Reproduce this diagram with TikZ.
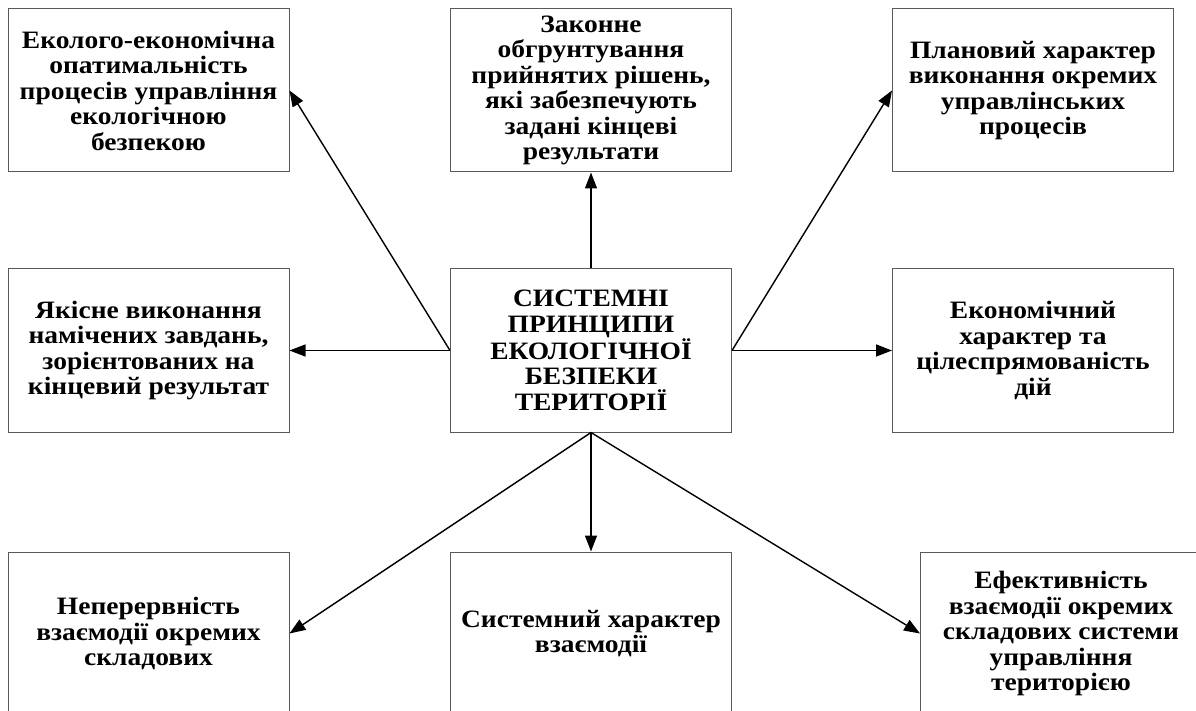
\documentclass[tikz,border=0pt]{standalone}
\usepackage{fontspec}
\setmainfont{Liberation Serif}[FakeStretch=1.1]
\usetikzlibrary{arrows.meta}
\tikzset{
  box/.style={draw=black!65, line width=1pt, minimum width=281pt, minimum height=163pt,
    inner sep=0pt, align=center, font=\fontsize{25}{25.5}\selectfont\bfseries},
  arr/.style={draw=black, line width=1.4pt, -{Triangle[length=16pt,width=12pt]}}
}
\begin{document}
\begin{tikzpicture}[x=1pt,y=-1pt]
\clip (0,0) rectangle (1196,711);
\fill[white] (0,0) rectangle (1196,711);
\node[box] (tl) at (148.5,90.5) {Еколого-економічна\\опатимальність\\процесів управління\\екологічною\\безпекою};
\node[box] (tc) at (591,90.5) {Законне\\обгрунтування\\прийнятих рішень,\\які забезпечують\\задані кінцеві\\результати};
\node[box] (tr) at (1033,90.5) {Плановий характер\\виконання окремих\\управлінських\\процесів};
\node[box] (ml) at (148.5,350.5) {Якісне виконання\\намічених завдань,\\зорієнтованих на\\кінцевий результат};
\node[box] (c) at (591,350.5) {СИСТЕМНІ\\ПРИНЦИПИ\\ЕКОЛОГІЧНОЇ\\БЕЗПЕКИ\\ТЕРИТОРІЇ};
\node[box] (mr) at (1033,350.5) {Економічний\\характер та\\цілеспрямованість\\дій};
\node[box] (bl) at (148.5,633.5) {Неперервність\\взаємодії окремих\\складових};
\node[box] (bc) at (591,633.5) {Системний характер\\взаємодії};
\node[box] (br) at (1061,633.5) {Ефективність\\взаємодії окремих\\складових системи\\управління\\територією};
\draw[arr] (c.north) -- (tc.south);
\draw[arr] (c.west) -- (tl.east);
\draw[arr] (c.east) -- (tr.west);
\draw[arr] (c.west) -- (ml.east);
\draw[arr] (c.east) -- (mr.west);
\draw[arr] (c.south) -- (bl.east);
\draw[arr] (c.south) -- (bc.north);
\draw[arr] (c.south) -- (br.west);
\end{tikzpicture}
\end{document}
